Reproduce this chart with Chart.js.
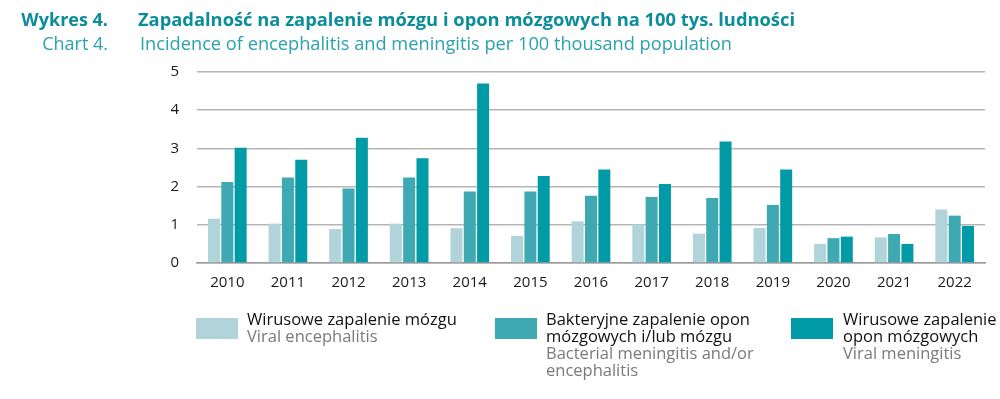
<!DOCTYPE html>
<html>
<head>
<meta charset="utf-8">
<script src="https://cdn.jsdelivr.net/npm/chart.js@4/dist/chart.umd.min.js"></script>
<style>
  body { margin: 0; background: #fff; font-family: "Open Sans", sans-serif; }
  #wrap { position: relative; width: 1000px; height: 399px; overflow: hidden; }
  #c { position: absolute; left: 0; top: 0; }
  .t { position: absolute; white-space: nowrap; font-size: 18px; line-height: 22px; transform-origin: left top; }
  .num { text-align: right; width: 90px; transform-origin: right top; }
  .bold { font-weight: 700; color: #0b8d9a; }
  .reg { color: #2ba2ae; }
  .leg { position: absolute; top: 318px; }
  .leg .sw { position: absolute; left: 0; top: 0; width: 42px; height: 21px; }
  .leg .txt { position: absolute; top: -8px; font-size: 16.5px; line-height: 17px; white-space: nowrap; }
  .leg .pl { color: #111; }
  .leg .en { color: #7a7a7a; }
</style>
</head>
<body>
<div id="wrap">
  <canvas id="c" width="1000" height="399"></canvas>
  <div class="t bold num" style="left:18px;top:8px">Wykres 4.</div>
  <div class="t bold fit" data-w="657" style="left:138px;top:8px">Zapadalność na zapalenie mózgu i opon mózgowych na 100 tys. ludności</div>
  <div class="t reg num" style="left:18px;top:32px">Chart 4.</div>
  <div class="t reg fit" data-w="592" style="left:140px;top:32px">Incidence of encephalitis and meningitis per 100 thousand population</div>
  <div id="legend"></div>
</div>
<script>
const years = ['2010', '2011', '2012', '2013', '2014', '2015', '2016', '2017', '2018', '2019', '2020', '2021', '2022'];
const viralEncephalitis = [1.16, 1.03, 0.89, 1.03, 0.91, 0.71, 1.09, 1.01, 0.77, 0.92, 0.50, 0.67, 1.40];
const bacterialMeningitis = [2.12, 2.24, 1.95, 2.24, 1.87, 1.87, 1.76, 1.73, 1.70, 1.52, 0.65, 0.76, 1.24];
const viralMeningitis = [3.02, 2.70, 3.28, 2.74, 4.70, 2.28, 2.45, 2.07, 3.18, 2.45, 0.69, 0.50, 0.97];
const yTicks = [0, 1, 2, 3, 4, 5];

const labelsPl = [['Wirusowe zapalenie mózgu'], ['Bakteryjne zapalenie opon', 'mózgowych i/lub mózgu'], ['Wirusowe zapalenie', 'opon mózgowych']];
const labelsEn = [['Viral encephalitis'], ['Bacterial meningitis and/or', 'encephalitis'], ['Viral meningitis']];
const colors = ['#b0d4d9', '#3ea9b3', '#009ba7'];

// squeeze the long title lines to their width in the picture
document.querySelectorAll('.fit').forEach(el => {
  const w = el.getBoundingClientRect().width;
  el.style.transform = 'scaleX(' + (el.dataset.w / w) + ')';
});

const legendX = [196, 495, 791];
const legend = document.getElementById('legend');
labelsPl.forEach((pl, i) => {
  const item = document.createElement('div');
  item.className = 'leg';
  item.style.left = legendX[i] + 'px';
  let html = '<div class="sw" style="background:' + colors[i] + '"></div><div class="txt" style="left:' + (i == 2 ? 52 : 51) + 'px">';
  pl.forEach(s => { html += '<div class="pl">' + s + '</div>'; });
  labelsEn[i].forEach(s => { html += '<div class="en">' + s + '</div>'; });
  item.innerHTML = html + '</div>';
  legend.appendChild(item);
});

const ctx = document.getElementById('c').getContext('2d');
new Chart(ctx, {
  type: 'bar',
  data: {
    labels: years,
    datasets: [
      { label: 'Wirusowe zapalenie mózgu', data: viralEncephalitis, backgroundColor: colors[0] },
      { label: 'Bakteryjne zapalenie opon mózgowych i/lub mózgu', data: bacterialMeningitis, backgroundColor: colors[1] },
      { label: 'Wirusowe zapalenie opon mózgowych', data: viralMeningitis, backgroundColor: colors[2] }
    ]
  },
  options: {
    responsive: false,
    animation: false,
    layout: { padding: { left: 0, right: 15, top: 72, bottom: 106 } },
    datasets: { bar: { categoryPercentage: 0.66, barPercentage: 0.9 } },
    plugins: { legend: { display: false }, tooltip: { enabled: false } },
    scales: {
      x: {
        grid: { display: false },
        border: { color: '#9a9a9a', width: 1.5 },
        ticks: { color: '#1a1a1a', font: { family: 'Open Sans', size: 15 }, padding: 3, maxRotation: 0 },
        afterFit: s => { s.height = 30; }
      },
      y: {
        min: 0,
        max: 5,
        afterBuildTicks: s => { s.ticks = yTicks.map(v => ({ value: v })); },
        grid: { color: '#b5b5b5', lineWidth: 1.5, drawTicks: false },
        border: { display: false },
        ticks: { color: '#1a1a1a', font: { family: 'Open Sans', size: 15 }, padding: 18 },
        afterFit: s => { s.width = 197; }
      }
    }
  }
});
</script>
</body>
</html>
